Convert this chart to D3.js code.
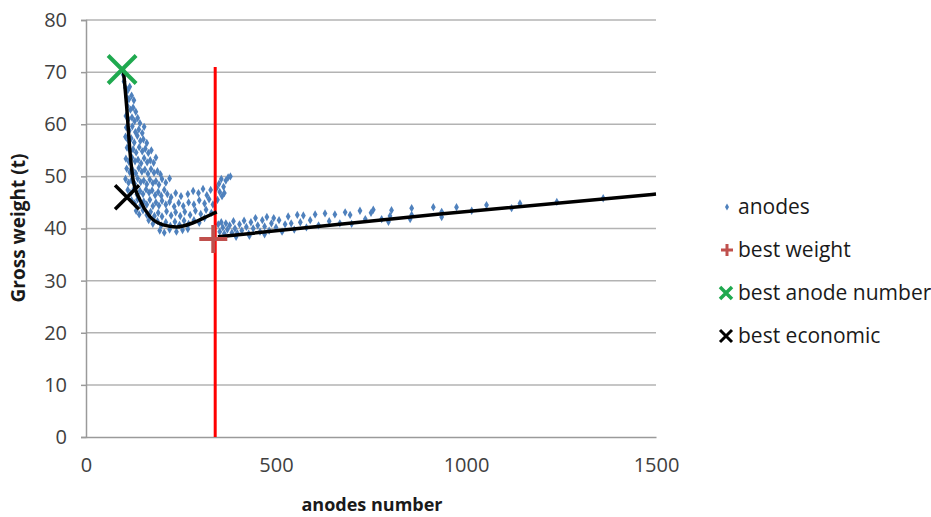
<!DOCTYPE html>
<html>
<head>
<script src="https://d3js.org/d3.v7.min.js"></script>
<style>
  body { margin: 0; background: #fff; }
  text { font-family: "Open Sans", sans-serif; }
</style>
</head>
<body>
<svg id="chart" width="931" height="517"></svg>
<script>
// x ticks / y ticks
var xTicks = [0, 500, 1000, 1500];
var yTicks = [0, 10, 20, 30, 40, 50, 60, 70, 80];

// anodes scatter [anode number, gross weight]
var anodes = [
  [98,69.5],[100,68.2],[104,67.0],[110,66.5],[115,67.2],[107,65.2],[113,64.8],[120,65.5],[126,64.6],
  [109,63.5],[117,62.8],[124,63.2],[131,62.4],[105,61.6],[112,61.0],[121,61.3],[128,60.6],[136,61.2],
  [142,60.2],[106,59.4],[114,58.8],[122,59.6],[130,58.5],[139,59.0],[148,58.3],[153,59.5],[104,57.6],
  [111,56.9],[119,57.3],[127,56.5],[135,57.8],[143,56.8],[151,57.1],[160,56.4],[108,55.5],[116,54.9],
  [124,55.2],[132,54.6],[140,55.6],[148,54.8],[156,55.3],[164,54.5],[172,55.0],[105,53.4],[113,52.8],
  [121,53.6],[129,52.9],[137,53.2],[145,52.5],[153,53.5],[161,52.7],[169,53.1],[178,52.6],[184,53.6],
  [107,51.5],[115,50.8],[123,51.2],[131,50.6],[139,51.6],[147,50.9],[155,51.3],[163,50.5],[171,51.4],
  [179,50.7],[188,51.0],[196,50.4],[104,49.5],[112,48.8],[120,49.3],[128,48.6],[136,49.6],[144,48.9],
  [152,49.2],[160,48.5],[168,49.4],[176,48.7],[184,49.1],[192,48.4],[200,49.5],[210,48.8],[220,49.6],
  [110,47.4],[118,46.8],[126,47.6],[134,46.5],[142,47.2],[150,46.6],[158,47.5],[166,46.9],[174,47.3],
  [182,46.4],[190,47.0],[198,46.3],[206,47.4],[214,46.6],[224,46.0],[236,46.8],[250,46.2],[268,46.6],
  [282,47.2],[296,46.8],[308,47.6],[318,46.4],[328,47.4],[120,45.4],[128,44.8],[136,45.6],[144,44.5],
  [152,45.2],[160,44.6],[168,45.5],[176,44.3],[184,45.0],[192,44.4],[200,45.3],[210,44.6],[220,45.1],
  [232,44.2],[244,44.9],[256,44.3],[270,45.0],[284,44.6],[298,45.4],[312,44.8],[324,45.6],[334,44.6],
  [132,43.4],[140,42.7],[150,43.5],[160,42.6],[170,43.2],[180,42.4],[190,43.0],[200,42.3],[212,43.3],
  [224,42.5],[236,43.1],[248,42.4],[260,43.2],[274,42.6],[288,43.4],[302,42.8],[316,43.6],[330,43.0],
  [165,41.6],[176,40.9],[188,41.4],[198,40.6],[210,41.2],[222,40.5],[234,41.3],[246,40.7],[258,41.5],
  [270,40.9],[284,41.6],[298,41.1],[312,42.0],[194,39.6],[206,39.2],[220,39.8],[238,39.4],[254,39.7],
  [268,39.9],
  [346,45.5],[352,47.0],[358,46.2],[350,48.6],[362,48.0],[368,49.2],[374,49.8],[356,49.5],[364,46.8],
  [344,47.8],[380,50.0],
  [348,40.8],[352,39.4],[356,41.2],[360,40.2],[364,39.0],[368,41.0],[372,39.8],[378,40.6],[384,39.2],
  [388,41.4],[392,40.0],[398,39.1],[404,40.8],[410,39.6],[416,41.5],[422,40.3],[428,39.0],[434,41.2],
  [440,40.0],[446,42.0],[452,40.6],[458,39.4],[464,41.6],[470,40.4],[476,42.2],[482,39.6],[488,41.0],
  [494,42.0],[500,40.2],[508,41.6],[516,39.4],[524,40.8],[532,42.3],[540,41.0],[548,39.8],[556,42.6],
  [564,41.2],[572,42.5],[580,40.2],[590,41.6],[603,42.7],[612,40.6],[629,42.9],[640,41.4],[655,42.7],
  [668,41.0],[682,43.1],[695,42.6],[699,40.9],[721,43.4],[735,41.8],[750,43.0],[756,43.6],
  [395,38.4],[430,38.6],[470,38.9],
  [778,41.8],[796,41.3],[800,42.4],[804,43.5],[853,41.8],[857,42.6],[857,43.9],[914,44.1],[936,43.2],
  [936,42.2],[975,44.1],[1015,43.4],[1054,44.5],[1120,43.9],[1142,44.8],[1239,45.1],[1361,45.8]
];

// fitted curve, two pieces
var curveLeft = [
  [98,70.7],[107,63.4],[116,54.5],[124,49.3],[142,45.5],[168,42.3],[203,40.7],[239,40.3],
  [282,41.1],[318,42.3],[344,43.2]
];
var curveRight = [[347,38.4],[932,42.8],[1500,46.6]];

// limit line
var limitX = 340;
var limitTop = 71;

var bestWeight = [335, 38];
var bestAnodeNumber = [95, 70.5];
var bestEconomic = [108, 46];

var legendLabels = ["anodes", "best weight", "best anode number", "best economic"];

var svg = d3.select("#chart");
var x = d3.scaleLinear().domain([0, 1500]).range([86, 656]);
var y = d3.scaleLinear().domain([0, 80]).range([437, 20]);

// gridlines
svg.append("g").selectAll("line").data(yTicks.filter(d => d > 0)).enter()
  .append("line")
  .attr("x1", x(0)).attr("x2", x(1500))
  .attr("y1", d => y(d)).attr("y2", d => y(d))
  .attr("stroke", "#b3b3b3").attr("stroke-width", 1.5);

// axes
var yAxis = d3.axisLeft(y).tickValues(yTicks).tickSize(5).tickPadding(14);
var gy = svg.append("g").attr("transform", "translate(" + x(0) + ",0)").call(yAxis);
gy.select(".domain").attr("stroke", "#9a9a9a").attr("stroke-width", 1.5);
gy.selectAll(".tick line").attr("stroke", "#9a9a9a").attr("stroke-width", 1.5);
gy.selectAll(".tick text").attr("font-size", 20).attr("fill", "#404040")
  .attr("font-family", "Open Sans, sans-serif");

var xAxis = d3.axisBottom(x).tickValues(xTicks).tickFormat(d3.format("d")).tickSize(0).tickPadding(21);
var gx = svg.append("g").attr("transform", "translate(0," + y(0) + ")").call(xAxis);
gx.select(".domain").attr("stroke", "#9a9a9a").attr("stroke-width", 1.5);
gx.selectAll(".tick text").attr("font-size", 20).attr("fill", "#404040")
  .attr("font-family", "Open Sans, sans-serif");

// axis titles
svg.append("text").attr("x", 372).attr("y", 505).attr("dy", "0.35em").attr("text-anchor", "middle")
  .attr("font-size", 18).attr("font-weight", "bold").attr("fill", "#1a1a1a")
  .text("anodes number");
svg.append("text").attr("transform", "translate(18,228) rotate(-90)")
  .attr("text-anchor", "middle").attr("dy", "0.35em").attr("font-size", 19).attr("font-weight", "bold")
  .attr("fill", "#1a1a1a").text("Gross weight (t)");

// scatter
var diamond = d3.symbol().type(d3.symbolDiamond).size(20);
svg.append("g").selectAll("path").data(anodes).enter()
  .append("path")
  .attr("d", diamond)
  .attr("transform", d => "translate(" + x(d[0]) + "," + y(d[1]) + ")")
  .attr("fill", "#4f81bd");

// red limit line
svg.append("line")
  .attr("x1", x(limitX)).attr("x2", x(limitX))
  .attr("y1", y(0)).attr("y2", y(limitTop))
  .attr("stroke", "#ff0000").attr("stroke-width", 3);

// curve
var line = d3.line().x(d => x(d[0])).y(d => y(d[1])).curve(d3.curveMonotoneX);
[curveLeft, curveRight].forEach(function(c) {
  svg.append("path").datum(c).attr("d", line)
    .attr("fill", "none").attr("stroke", "#000").attr("stroke-width", 3.5);
});

function plus(g, cx, cy, r, color, w) {
  g.append("path").attr("d", "M" + (cx - r) + "," + cy + "H" + (cx + r) + "M" + cx + "," + (cy - r) + "V" + (cy + r))
    .attr("stroke", color).attr("stroke-width", w).attr("fill", "none");
}
function cross(g, cx, cy, r, color, w) {
  g.append("path").attr("d", "M" + (cx - r) + "," + (cy - r) + "L" + (cx + r) + "," + (cy + r) +
    "M" + (cx - r) + "," + (cy + r) + "L" + (cx + r) + "," + (cy - r))
    .attr("stroke", color).attr("stroke-width", w).attr("fill", "none");
}

plus(svg, x(bestWeight[0]), y(bestWeight[1]), 14, "#c0504d", 4);
cross(svg, x(bestAnodeNumber[0]), y(bestAnodeNumber[1]), 14, "#1fa94f", 4);
cross(svg, x(bestEconomic[0]), y(bestEconomic[1]), 12, "#000", 3.5);

// legend
var legY = [207, 250, 293, 336];
var leg = svg.append("g");
leg.append("path").attr("d", d3.symbol().type(d3.symbolDiamond).size(14))
  .attr("transform", "translate(727," + legY[0] + ")").attr("fill", "#4f81bd");
plus(leg, 727, legY[1], 6, "#c0504d", 3);
cross(leg, 726, legY[2], 6, "#1fa94f", 3.5);
cross(leg, 726, legY[3], 6, "#000", 3);
leg.selectAll("text").data(legendLabels).enter().append("text")
  .attr("x", 738).attr("y", (d, i) => legY[i]).attr("dy", "0.35em")
  .attr("font-size", 21).attr("fill", "#1a1a1a").text(d => d);
</script>
</body>
</html>
